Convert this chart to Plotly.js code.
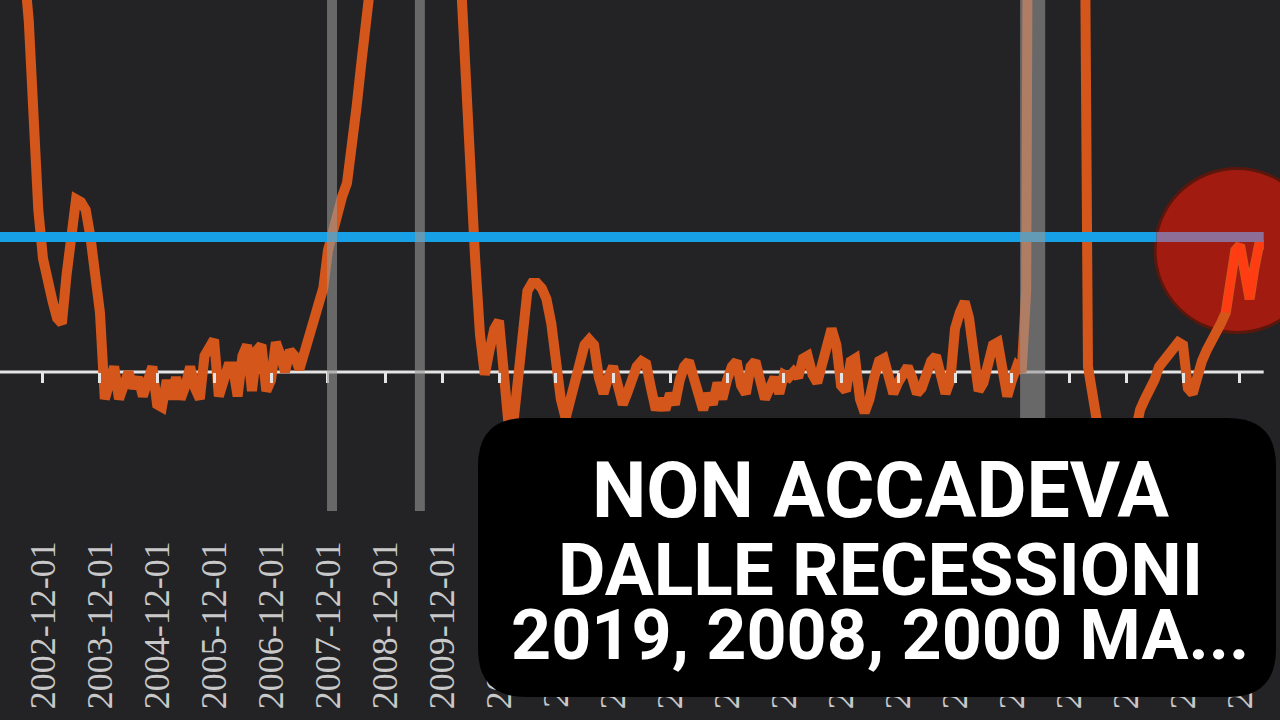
<!DOCTYPE html>
<html>
<head>
<meta charset="utf-8">
<script src="https://cdn.plot.ly/plotly-3.0.1.min.js"></script>
<style>
  html, body { margin: 0; padding: 0; background: #232326; }
  #chart { width: 1280px; height: 720px; }
</style>
</head>
<body>
<div id="chart"></div>
<script>
// ---- Sahm-rule style indicator, monthly values (Jan..Dec) ----
const SAHM_2002 = [1.70, 1.75, 1.80, 1.80, 1.75, 1.65, 1.55, 1.50, 1.30, 0.93, 0.60, 0.42];
const SAHM_2003 = [0.32, 0.26, 0.20, 0.18, 0.36, 0.55, 0.64, 0.63, 0.60, 0.50, 0.38, 0.22];
const SAHM_2004 = [-0.10, -0.05, 0.02, -0.10, -0.04, 0.00, -0.06, -0.02, -0.09, -0.03, 0.02, -0.12];
const SAHM_2005 = [-0.13, -0.03, -0.10, -0.02, -0.10, -0.05, 0.02, -0.06, -0.10, 0.06, 0.10, 0.12];
const SAHM_2006 = [-0.09, -0.04, 0.02, 0.02, -0.09, 0.06, 0.10, -0.07, 0.08, 0.10, -0.07, -0.03];
const SAHM_2007 = [0.11, 0.06, 0.00, 0.08, 0.06, 0.01, 0.08, 0.14, 0.19, 0.25, 0.31, 0.45];
const SAHM_2008 = [0.53, 0.60, 0.65, 0.70, 0.82, 0.98, 1.14, 1.28, 1.45, 1.80, 2.20, 2.70];
const SAHM_2009 = [3.20, 3.60, 3.90, 4.10, 4.20, 4.30, 4.20, 4.00, 3.80, 3.60, 3.10, 2.60];
const SAHM_2010 = [2.20, 1.90, 1.70, 1.45, 1.05, 0.72, 0.42, 0.14, -0.01, 0.08, 0.16, 0.19];
const SAHM_2011 = [0.00, -0.20, -0.20, 0.00, 0.20, 0.30, 0.33, 0.33, 0.31, 0.27, 0.18, 0.03];
const SAHM_2012 = [-0.10, -0.17, -0.10, -0.02, 0.05, 0.10, 0.12, 0.10, -0.02, -0.08, -0.02, 0.02];
const SAHM_2013 = [-0.05, -0.12, -0.08, -0.02, 0.02, 0.04, 0.03, -0.06, -0.14, -0.10, -0.14, -0.08];
const SAHM_2014 = [-0.12, -0.03, 0.02, 0.04, -0.02, -0.10, -0.14, -0.08, -0.12, -0.04, -0.10, -0.03];
const SAHM_2015 = [0.02, 0.04, -0.05, -0.08, 0.02, 0.04, -0.03, -0.10, -0.06, -0.02, -0.08, -0.01];
const SAHM_2016 = [-0.02, 0.00, -0.02, 0.05, 0.06, -0.01, -0.04, 0.02, 0.10, 0.16, 0.10, -0.05];
const SAHM_2017 = [-0.07, 0.04, 0.05, -0.10, -0.15, -0.10, -0.02, 0.04, 0.05, -0.03, -0.08, -0.04];
const SAHM_2018 = [0.00, 0.02, -0.02, -0.08, -0.06, 0.00, 0.04, 0.06, 0.00, -0.08, -0.03, 0.16];
const SAHM_2019 = [0.22, 0.26, 0.20, 0.05, -0.07, -0.04, 0.05, 0.10, 0.11, -0.02, -0.09, -0.03];
const SAHM_2020 = [0.02, 0.00, 0.30, 4.50, 8.50, 9.50, 9.20, 8.40, 7.30, 6.20, 5.20, 4.40];
const SAHM_2021 = [3.80, 3.30, 2.60, 0.02, -0.10, -0.20, -0.30, -0.40, -0.50, -0.60, -0.70, -0.75];
const SAHM_2022 = [-0.30, -0.20, -0.14, -0.10, -0.07, -0.03, 0.02, 0.04, 0.07, 0.09, 0.11, 0.10];
const SAHM_2023 = [-0.06, -0.08, -0.01, 0.04, 0.08, 0.11, 0.14, 0.18, 0.22, 0.36, 0.45, 0.47];
const SAHM_2024 = [0.38, 0.27, 0.38, 0.47, 0.47];

const YEARS = [2002, 2003, 2004, 2005, 2006, 2007, 2008, 2009, 2010, 2011, 2012, 2013,
               2014, 2015, 2016, 2017, 2018, 2019, 2020, 2021, 2022, 2023, 2024];
const SERIES = [SAHM_2002, SAHM_2003, SAHM_2004, SAHM_2005, SAHM_2006, SAHM_2007, SAHM_2008,
                SAHM_2009, SAHM_2010, SAHM_2011, SAHM_2012, SAHM_2013, SAHM_2014, SAHM_2015,
                SAHM_2016, SAHM_2017, SAHM_2018, SAHM_2019, SAHM_2020, SAHM_2021, SAHM_2022,
                SAHM_2023, SAHM_2024];

const THRESHOLD = 0.5;
const THRESHOLD_SPLIT = '2022-06-15';   // where the threshold line enters the highlight circle
const HIGHLIGHT_FROM = '2023-09-01';    // last stretch drawn brighter inside the circle
const CIRCLE_AT = { date: '2023-11-12', value: 0.45 };

const RECESSION_BANDS = [
  ['2007-11-25', '2008-01-28'],
  ['2009-06-10', '2009-08-13'],
  ['2020-01-22', '2020-07-01']
];

const TICK_DATES = ['2001-12-01', '2002-12-01', '2003-12-01', '2004-12-01', '2005-12-01', '2006-12-01',
  '2007-12-01', '2008-12-01', '2009-12-01', '2010-12-01', '2011-12-01', '2012-12-01',
  '2013-12-01', '2014-12-01', '2015-12-01', '2016-12-01', '2017-12-01', '2018-12-01',
  '2019-12-01', '2020-12-01', '2021-12-01', '2022-12-01', '2023-12-01'];
const TICK_TEXT = TICK_DATES.slice();

const CAPTION = ['NON ACCADEVA', 'DALLE RECESSIONI', '2019, 2008, 2000 MA...'];

// ---- build series ----
const dates = [], vals = [];
YEARS.forEach((y, k) => {
  SERIES[k].forEach((v, i) => {
    dates.push(y + '-' + String(i + 1).padStart(2, '0') + '-01');
    vals.push(v);
  });
});
const first = dates[0], last = dates[dates.length - 1];
const hiStart = dates.indexOf(HIGHLIGHT_FROM);

// ---- layout geometry (pixels of the 1280x720 frame) ----
const W = 1280, H = 720;
const zeroPx = 372, pxPerUnit = 270, plotBottomPx = 511;
const yTop = zeroPx / pxPerUnit;
const yBottom = -(plotBottomPx - zeroPx) / pxPerUnit;

const ORANGE = '#d4561a';
const BLUE = '#18a0e6';

const traces = [
  { x: [first, last], y: [0, 0], mode: 'lines', line: { color: '#e4e4e4', width: 3 },
    hoverinfo: 'skip', xaxis: 'x', yaxis: 'y' },
  { x: dates, y: vals, mode: 'lines', line: { color: ORANGE, width: 10 },
    hoverinfo: 'skip', xaxis: 'x', yaxis: 'y' },
  { x: dates.slice(hiStart), y: vals.slice(hiStart), mode: 'lines',
    line: { color: '#ff3c12', width: 8 }, hoverinfo: 'skip', xaxis: 'x', yaxis: 'y' },
  { x: [first, THRESHOLD_SPLIT], y: [THRESHOLD, THRESHOLD], mode: 'lines',
    line: { color: BLUE, width: 10 }, hoverinfo: 'skip', xaxis: 'x2', yaxis: 'y' },
  { x: [THRESHOLD_SPLIT, last], y: [THRESHOLD, THRESHOLD], mode: 'lines',
    line: { color: '#8c6e96', width: 10 }, hoverinfo: 'skip', xaxis: 'x2', yaxis: 'y' }
];

const shapes = [];
shapes.push({
  type: 'circle', xref: 'x', yref: 'y', layer: 'below',
  xsizemode: 'pixel', ysizemode: 'pixel',
  xanchor: CIRCLE_AT.date, yanchor: CIRCLE_AT.value,
  x0: -82, x1: 82, y0: -82, y1: 82,
  fillcolor: '#a21b10', line: { color: '#5a170c', width: 3 }
});
RECESSION_BANDS.forEach(([a, b]) => shapes.push({
  type: 'rect', xref: 'x', yref: 'y domain', layer: 'above',
  x0: a, x1: b, y0: 0, y1: 1,
  fillcolor: 'rgba(150,150,150,0.6)', line: { width: 0 }
}));
(function () {
  const L = 478 / W, R = 1276 / W, T = 1 - 418 / H, B = 1 - 697 / H;
  const rx = 48 / W, ry = 48 / H;
  const p = `M ${L + rx},${T} L ${R - rx},${T} Q ${R},${T} ${R},${T - ry} ` +
            `L ${R},${B + ry} Q ${R},${B} ${R - rx},${B} L ${L + rx},${B} ` +
            `Q ${L},${B} ${L},${B + ry} L ${L},${T - ry} Q ${L},${T} ${L + rx},${T} Z`;
  shapes.push({ type: 'path', xref: 'paper', yref: 'paper', layer: 'above', path: p,
    fillcolor: '#000000', line: { width: 0 } });
})();

const captionY = [491, 570, 635];
const captionSize = [77, 73, 70];
const annotations = CAPTION.map((t, i) => ({
  xref: 'paper', yref: 'paper', x: 880 / W, y: 1 - captionY[i] / H,
  xanchor: 'center', yanchor: 'middle', showarrow: false, text: t,
  font: { family: 'Roboto', size: captionSize[i], color: '#ffffff', weight: 700 }
}));

const layout = {
  width: W, height: H,
  margin: { l: 0, r: 0, t: 0, b: 0, pad: 0 },
  paper_bgcolor: '#232326', plot_bgcolor: '#232326',
  showlegend: false,
  xaxis: {
    type: 'date', range: ['2002-02-28 12:00', '2024-08-13 12:00'],
    anchor: 'y', showgrid: false, zeroline: false, showline: false,
    tickmode: 'array', tickvals: TICK_DATES, ticktext: TICK_TEXT,
    tickangle: -90, ticks: '', ticklabelstandoff: 22,
    tickfont: { family: 'Liberation Serif', size: 36, color: '#c8c8c8' }
  },
  xaxis2: {
    type: 'date', overlaying: 'x', matches: 'x',
    anchor: 'free', position: (H - zeroPx) / H, side: 'bottom',
    showgrid: false, zeroline: false, showline: false, showticklabels: false,
    tickmode: 'array', tickvals: TICK_DATES,
    ticks: 'outside', ticklen: 10, tickwidth: 3, tickcolor: '#e4e4e4'
  },
  yaxis: {
    domain: [1 - plotBottomPx / H, 1], range: [yBottom, yTop],
    visible: false, showgrid: false, zeroline: false
  },
  shapes: shapes,
  annotations: annotations
};

Plotly.newPlot('chart', traces, layout, { staticPlot: true, displayModeBar: false });
</script>
</body>
</html>
